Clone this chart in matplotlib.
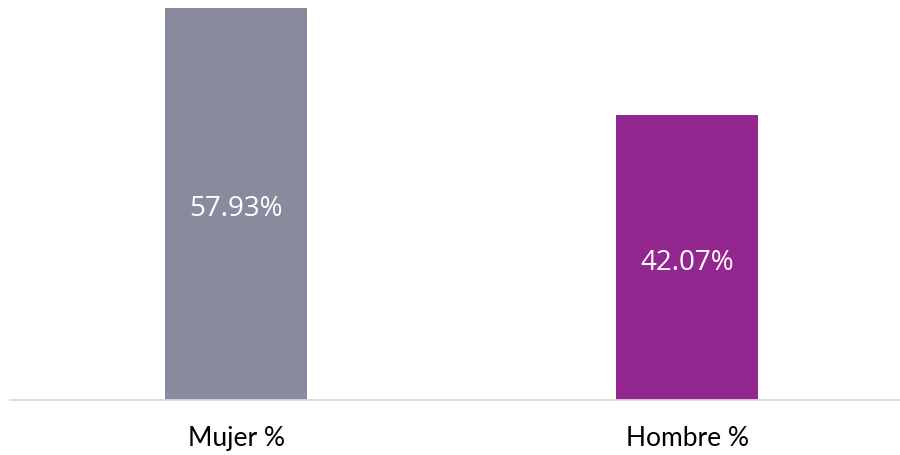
import matplotlib
matplotlib.use("Agg")
from matplotlib import pyplot as plt

categorias = ["Mujer %", "Hombre %"]
valores = [57.93, 42.07]
colores = ["#8A8A9E", "#93278F"]

fig = plt.figure(figsize=(9, 4.55), dpi=100)
ax = fig.add_axes([10 / 900, 1 - 400 / 455, 890 / 900, 400 / 455])

pos = range(len(categorias))
barras = ax.bar(pos, valores, width=0.3145, color=colores, zorder=2)

for b, v in zip(barras, valores):
    ax.annotate("%.2f%%" % v, (b.get_x() + b.get_width() / 2, v / 2),
                xytext=(0, -3.5), textcoords="offset points",
                ha="center", va="center", color="white", fontsize=20,
                family="Open Sans")

ax.set_xlim(-0.5006, 1.4707)
ax.set_ylim(0, 57.93 * 400 / 392)

for lado in ["top", "right", "left"]:
    ax.spines[lado].set_visible(False)
ax.spines["bottom"].set_color("#D9D9D9")
ax.spines["bottom"].set_linewidth(1.3)
ax.set_yticks([])
ax.set_xticks(list(pos))
ax.set_xticklabels(categorias, fontsize=19, family="Lato")
ax.tick_params(axis="x", length=0, pad=19)

fig.savefig("out.png", dpi=100)
